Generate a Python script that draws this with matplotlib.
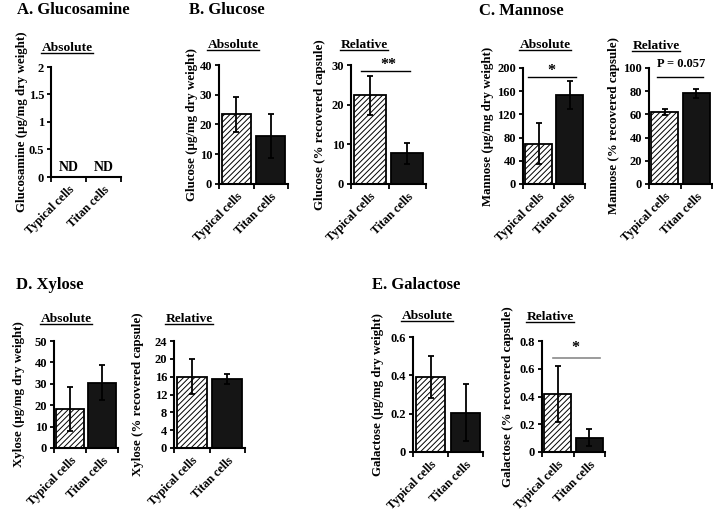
import matplotlib
matplotlib.use("Agg")
import matplotlib.pyplot as plt
from matplotlib.lines import Line2D

plt.rcParams['font.family'] = ['Liberation Serif', 'DejaVu Serif']
plt.rcParams['font.weight'] = 'bold'
plt.rcParams['hatch.linewidth'] = 0.7
plt.rcParams['hatch.color'] = 'black'

W, H = 713, 511

# ---------------- data ----------------
categories = ["Typical cells", "Titan cells"]
glucosamine_abs_text = ["ND", "ND"]

glucose_abs = [23.4, 16.1]
glucose_abs_err = [5.9, 7.4]
glucose_rel = [22.4, 7.7]
glucose_rel_err = [4.9, 2.6]

mannose_abs = [69.5, 154]
mannose_abs_err = [35.5, 24]
mannose_rel = [62.0, 78.1]
mannose_rel_err = [2.6, 3.6]

xylose_abs = [18.3, 30.6]
xylose_abs_err = [10.4, 8.1]
xylose_rel = [16.0, 15.4]
xylose_rel_err = [3.9, 1.1]

galactose_abs = [0.39, 0.205]
galactose_abs_err = [0.11, 0.15]
galactose_rel = [0.417, 0.103]
galactose_rel_err = [0.20, 0.06]

fig = plt.figure(figsize=(W / 100, H / 100), dpi=100)


def px_axes(x0, y0, x1, y1):
    return fig.add_axes([x0 / W, 1 - y1 / H, (x1 - x0) / W, (y1 - y0) / H])


def make_panel(box, vals, errs, yticks, yticklabels, ylabel, lab_center_off):
    x0, y0, x1, y1 = box
    ax = px_axes(*box)
    if vals is not None:
        xs = list(range(len(categories)))
        ax.bar(xs[0], vals[0], width=0.85, color='white', edgecolor='black',
               hatch='//////', linewidth=1.3, zorder=2)
        ax.bar(xs[1], vals[1], width=0.85, color='#151515', edgecolor='black',
               linewidth=1.3, zorder=2)
        ax.errorbar(xs, vals, yerr=errs, fmt='none', ecolor='black',
                    elinewidth=1.3, capsize=2.5, capthick=1.3, zorder=3)
    ax.set_xlim(-0.5, 1.5)
    ax.set_ylim(yticks[0], yticks[-1])
    ax.set_yticks(yticks)
    ax.set_yticklabels(yticklabels)
    ax.set_xticks([0, 1])
    ax.set_xticklabels(categories, rotation=45, ha='right',
                       rotation_mode='anchor', fontsize=8.7, fontweight='bold')
    ax.set_xticks([-0.5, 0.5, 1.5], minor=True)
    ax.tick_params(axis='x', which='major', length=0, pad=5)
    ax.tick_params(axis='x', which='minor', length=3.5, width=1.3, direction='out')
    ax.tick_params(axis='y', length=3, width=1.3, direction='out', pad=2,
                   labelsize=9)
    for s in ['top', 'right']:
        ax.spines[s].set_visible(False)
    for s in ['left', 'bottom']:
        ax.spines[s].set_linewidth(1.5)
    ax.set_ylabel(ylabel, fontsize=9.3, fontweight='bold')
    ax.yaxis.set_label_coords(-(lab_center_off - 6.5) / (x1 - x0), 0.5)
    ax.set_facecolor('none')
    return ax


# panel A
axA = make_panel((51, 67, 121, 177), None, None, [0, 0.5, 1, 1.5, 2],
                 ["0", "0.5", "1", "1.5", "2"],
                 "Glucosamine (µg/mg dry weight)", 30)
for i, t in enumerate(glucosamine_abs_text):
    axA.text(i, 0.06, t, ha='center', va='bottom', fontsize=10, fontweight='bold')

# panel B
make_panel((219, 65, 288, 184), glucose_abs, glucose_abs_err,
           [0, 10, 20, 30, 40], ["0", "10", "20", "30", "40"],
           "Glucose (µg/mg dry weight)", 27)
axBr = make_panel((351, 65, 426, 184), glucose_rel, glucose_rel_err,
                  [0, 10, 20, 30], ["0", "10", "20", "30"],
                  "Glucose (% recovered capsule)", 32)
axBr.plot([-0.23, 1.07], [28.5, 28.5], color='black', lw=1, clip_on=False)
axBr.text(0.49, 28.1, "**", ha='center', va='bottom', fontsize=11.5, fontweight='bold')

# panel C
axCa = make_panel((523, 68, 585, 184), mannose_abs, mannose_abs_err,
                  [0, 40, 80, 120, 160, 200],
                  ["0", "40", "80", "120", "160", "200"],
                  "Mannose (µg/mg dry weight)", 35)
axCa.plot([-0.34, 1.21], [183.8, 183.8], color='black', lw=1, clip_on=False)
axCa.text(0.40, 181, "*", ha='center', va='bottom', fontsize=11.5, fontweight='bold')
axCr = make_panel((649, 68, 712, 184), mannose_rel, mannose_rel_err,
                  [0, 20, 40, 60, 80, 100],
                  ["0", "20", "40", "60", "80", "100"],
                  "Mannose (% recovered capsule)", 36)
axCr.plot([-0.24, 1.21], [92, 92], color='black', lw=1, clip_on=False)
axCr.text(0.52, 98, "P = 0.057", ha='center', va='bottom', fontsize=9,
          fontweight='bold')

# panel D
make_panel((54, 341, 118, 448), xylose_abs, xylose_abs_err,
           [0, 10, 20, 30, 40, 50], ["0", "10", "20", "30", "40", "50"],
           "Xylose (µg/mg dry weight)", 35)
make_panel((174, 341, 245, 448), xylose_rel, xylose_rel_err,
           [0, 4, 8, 12, 16, 20, 24], ["0", "4", "8", "12", "16", "20", "24"],
           "Xylose (% recovered capsule)", 37)

# panel E
make_panel((413, 337, 483, 452), galactose_abs, galactose_abs_err,
           [0, 0.2, 0.4, 0.6], ["0", "0.2", "0.4", "0.6"],
           "Galactose (µg/mg dry weight)", 35)
axEr = make_panel((542, 341, 605, 452), galactose_rel, galactose_rel_err,
                  [0, 0.2, 0.4, 0.6, 0.8], ["0", "0.2", "0.4", "0.6", "0.8"],
                  "Galactose (% recovered capsule)", 34)
axEr.plot([-0.15, 1.34], [0.678, 0.678], color='#8a8a8a', lw=1.2, clip_on=False)
axEr.text(0.55, 0.69, "*", ha='center', va='bottom', fontsize=11.5, fontweight='bold')


def ftext(x, y, s, **kw):
    return fig.text(x / W, 1 - y / H, s, **kw)


# panel letters
for (x, y, s) in [(17, 14.5, "A. Glucosamine"), (189, 14.5, "B. Glucose"),
                  (479, 15, "C. Mannose"), (16, 289, "D. Xylose"),
                  (372, 289, "E. Galactose")]:
    ftext(x, y, s, ha='left', va='baseline', fontsize=12, fontweight='bold')

# sub-titles (underlined)
subs = [(67, 51, "Absolute"), (233, 48, "Absolute"), (364, 48, "Relative"),
        (545, 48, "Absolute"), (656, 49, "Relative"),
        (66, 322, "Absolute"), (189, 322, "Relative"),
        (427, 319, "Absolute"), (550, 320, "Relative")]
sub_texts = []
for (x, y, s) in subs:
    t = ftext(x, y, s, ha='center', va='baseline', fontsize=9.7, fontweight='bold')
    sub_texts.append((t, y))

fig.canvas.draw()
renderer = fig.canvas.get_renderer()
for t, y in sub_texts:
    bb = t.get_window_extent(renderer)
    yl = 1 - (y + 2) / H
    fig.add_artist(Line2D([bb.x0 / W, bb.x1 / W], [yl, yl],
                          transform=fig.transFigure, color='black', lw=1))

fig.savefig("out.png", dpi=100, facecolor='white')
